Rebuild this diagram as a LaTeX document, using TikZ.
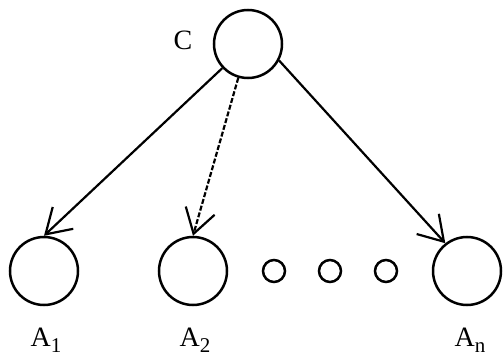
\documentclass[tikz,border=0pt]{standalone}
\usepackage{fontspec}
\setmainfont{Liberation Serif}
\usetikzlibrary{arrows.meta}
\newcommand{\sub}[1]{\raisebox{-0.5ex}{\fontsize{21}{21}\selectfont #1}}
\begin{document}
\begin{tikzpicture}[x=1pt,y=-1pt,
  big/.style={circle,draw,line width=2.5pt,minimum size=68pt,inner sep=0pt},
  small/.style={circle,draw,line width=2.5pt,minimum size=22pt,inner sep=0pt},
  lbl/.style={font=\fontsize{28}{28}\selectfont,inner sep=0pt},
  conn/.style={line width=2.2pt,-{Straight Barb[length=24pt,width=30pt,line width=2.2pt]}}]
\useasboundingbox (0,0) rectangle (504,361);
\node[big] (C) at (248,44) {};
\node[lbl] (Cl) at (183,40) {C};
\node[big] (A1) at (44,271) {};
\node[big] (A2) at (193,271) {};
\node[big] (An) at (467,271) {};
\node[small] (d1) at (274,271) {};
\node[small] (d2) at (330,271) {};
\node[small] (d3) at (386,271) {};
\node[lbl] (A1l) at (46,340) {A\sub{1}};
\node[lbl] (A2l) at (195,340) {A\sub{2}};
\node[lbl] (Anl) at (470,340) {A\sub{n}};
\draw[conn] (C) -- (A1.north);
\draw[conn,dash pattern=on 5pt off 2pt] (C) -- (A2.north);
\draw[conn] (C.332) -- (An.128);
\end{tikzpicture}
\end{document}
